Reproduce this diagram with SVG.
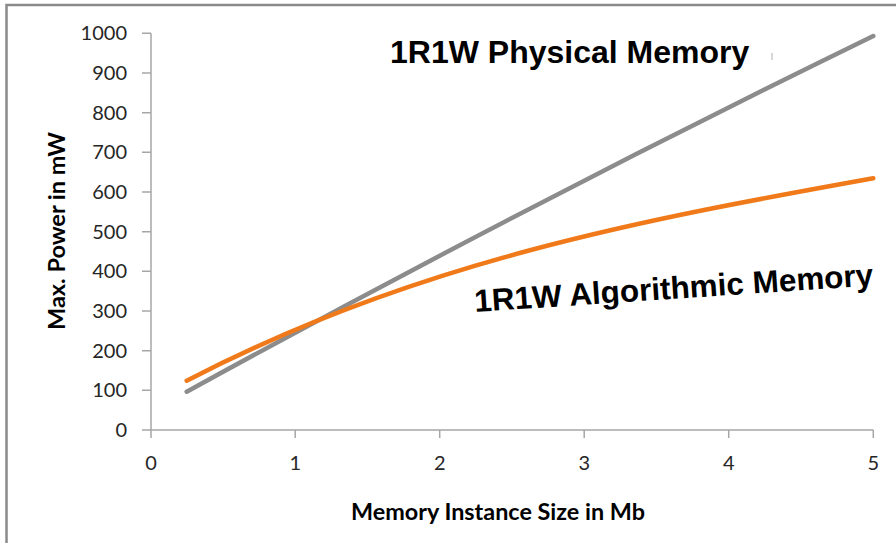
<svg xmlns="http://www.w3.org/2000/svg" width="896" height="543" viewBox="0 0 896 543">
  <style>
    .frame { fill: none; stroke: #8a8a8a; stroke-width: 2.5; }
    .axis { fill: none; stroke: #a6a6a6; stroke-width: 1.5; }
    .tick { font-family: Lato, "Liberation Sans", sans-serif; font-size: 20px; fill: #262626; }
    .ytick { text-anchor: end; }
    .xtick { text-anchor: middle; }
    .title { font-family: Lato, "Liberation Sans", sans-serif; font-size: 22px; font-weight: bold; fill: #000; text-anchor: middle; }
    .series { fill: none; stroke-width: 4.5; stroke-linecap: round; stroke-linejoin: round; }
    .label { font-family: "Liberation Sans", Arial, sans-serif; font-weight: bold; fill: #000; }
  </style>

  <rect width="896" height="543" fill="#fff"/>
  <rect class="frame" x="6.5" y="5" width="900" height="560"/>

  <!-- axes and tick marks -->
  <g id="axes" class="axis">
    <path d="M151,33.3 V438 M142,430 H873.3"/>
    <path d="M142,390.3 H151 M142,350.7 H151 M142,311 H151 M142,271.3 H151 M142,231.7 H151 M142,192 H151 M142,152.3 H151 M142,112.7 H151 M142,73 H151 M142,33.3 H151"/>
    <path d="M295.2,430 V438 M439.7,430 V438 M584.2,430 V438 M728.7,430 V438 M873.3,430 V438"/>
  </g>

  <g id="y-ticks" class="tick ytick">
    <text x="127" y="437">0</text>
    <text x="127" y="397.3">100</text>
    <text x="127" y="357.7">200</text>
    <text x="127" y="318">300</text>
    <text x="127" y="278.3">400</text>
    <text x="127" y="238.7">500</text>
    <text x="127" y="199">600</text>
    <text x="127" y="159.3">700</text>
    <text x="127" y="119.7">800</text>
    <text x="127" y="80">900</text>
    <text x="127" y="40.3">1000</text>
  </g>

  <g id="x-ticks" class="tick xtick">
    <text x="151" y="470">0</text>
    <text x="295.2" y="470">1</text>
    <text x="439.7" y="470">2</text>
    <text x="584.2" y="470">3</text>
    <text x="728.7" y="470">4</text>
    <text x="873.3" y="470">5</text>
  </g>

  <g id="axis-titles" class="title">
    <text x="498" y="520" textLength="294" lengthAdjust="spacingAndGlyphs">Memory Instance Size in Mb</text>
    <text transform="translate(65,231) rotate(-90)" textLength="198" lengthAdjust="spacingAndGlyphs">Max. Power in mW</text>
  </g>

  <!-- data series (smoothed) -->
  <g id="series">
    <path id="physical" class="series" stroke="#8c8c8c" d="M186.7,391.7 Q530,203.4 873.3,36"/>
    <path id="algorithmic" class="series" stroke="#f07a1a" d="M186.7,380.7 C415.7,261.6 644.3,219.5 873.3,178.3"/>
    <path d="M772,53 V60" stroke="#b0b0b0" stroke-width="1"/>
  </g>

  <g id="label-physical">
    <text class="label" x="390" y="63" font-size="32">1R1W Physical Memory</text>
  </g>
  <g id="label-algorithmic">
    <text class="label" x="475" y="312" font-size="31.5" transform="rotate(-3.8 475 312)">1R1W Algorithmic Memory</text>
  </g>
</svg>
